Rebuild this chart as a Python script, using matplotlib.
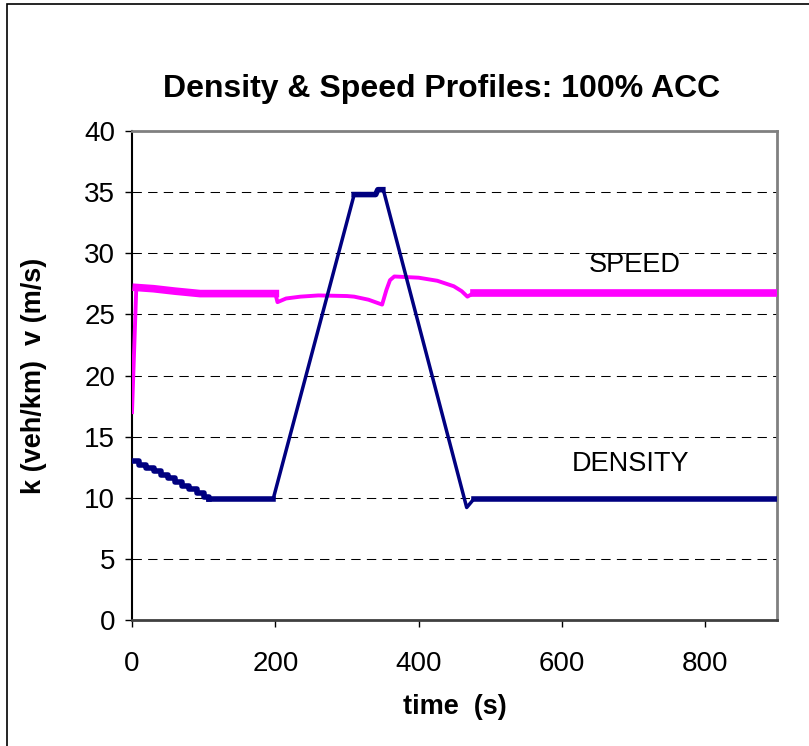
import matplotlib.pyplot as plt
from matplotlib.patches import Rectangle

plt.rcParams['font.family'] = ['Liberation Sans', 'DejaVu Sans']

# density k (veh/km): staircase at the start, then the ramp profile
k_step_t = [0, 10, 20, 30, 40, 50, 60, 70, 80, 90, 100, 108]
k_step = [13.0, 12.7, 12.4, 12.2, 11.9, 11.6, 11.3, 11.0, 10.7, 10.4, 10.1, 9.9]
k_t = [108, 197, 310, 340, 343, 350, 352, 467, 477, 900]
k = [9.9, 9.9, 34.8, 34.8, 35.2, 35.2, 34.9, 9.2, 9.9, 9.9]

# speed v (m/s)
v_t = [0, 6, 30, 60, 95, 200, 203, 215, 235, 260, 300, 310, 330, 349,
       355, 360, 366, 400, 426, 449, 460, 468, 477, 900]
v = [17.0, 27.2, 27.1, 26.9, 26.7, 26.7, 26.0, 26.3, 26.45, 26.55, 26.5,
     26.45, 26.2, 25.8, 27.0, 27.8, 28.1, 28.0, 27.75, 27.3, 26.9, 26.45,
     26.75, 26.75]

navy = '#000080'
magenta = '#ff00ff'

fig = plt.figure(figsize=(8.09, 7.46), dpi=100)
ax = fig.add_axes([132/809, 1 - 620/746, (777 - 132)/809, (620 - 131)/746])

# outer frame like the original chart object
fig.patches.append(Rectangle((7/809, -0.1), 1.1, 1 - 4/746 + 0.1,
                             transform=fig.transFigure, fill=False,
                             edgecolor='black', linewidth=1.2))

for yy in range(5, 40, 5):
    ax.axhline(yy, color='black', linewidth=0.75, linestyle=(0, (9, 6)), zorder=1)

# speed: thin line, oscillating parts drawn thicker
ax.plot(v_t, v, color=magenta, linewidth=2.8, zorder=3)
ax.plot(v_t[1:6], v[1:6], color=magenta, linewidth=5.5, zorder=3)
ax.plot(v_t[22:], v[22:], color=magenta, linewidth=5.5, zorder=3)

# density
ax.plot(k_step_t, k_step, color=navy, linewidth=4, drawstyle='steps-post', zorder=4)
ax.plot(k_t, k, color=navy, linewidth=2.5, zorder=4)
ax.plot(k_t[0:2], k[0:2], color=navy, linewidth=4, zorder=4)
ax.plot(k_t[2:6], k[2:6], color=navy, linewidth=4, zorder=4)
ax.plot(k_t[8:], k[8:], color=navy, linewidth=4, zorder=4)

ax.text(702, 29.0, 'SPEED', fontsize=19.5, ha='center', va='center')
ax.text(696, 12.8, 'DENSITY', fontsize=19.5, ha='center', va='center')

ax.set_xlim(0, 900)
ax.set_ylim(0, 40)
ax.set_xticks([0, 200, 400, 600, 800])
ax.set_yticks(range(0, 41, 5))
ax.tick_params(labelsize=20, direction='out', length=5, width=1)
ax.tick_params(axis='x', pad=17)
ax.tick_params(axis='y', pad=7)

ax.spines['left'].set_color('black')
ax.spines['left'].set_linewidth(1.5)
ax.spines['bottom'].set_color('#404040')
ax.spines['bottom'].set_linewidth(2)
ax.spines['top'].set_color('#808080')
ax.spines['top'].set_linewidth(2)
ax.spines['right'].set_color('#808080')
ax.spines['right'].set_linewidth(2)

ax.set_xlabel('time  (s)', fontsize=19.5, fontweight='bold')
ax.set_ylabel('k (veh/km)  v (m/s)', fontsize=19.5, fontweight='bold')
ax.xaxis.set_label_coords(0.5, (620 - 694)/489)
ax.yaxis.set_label_coords((47 - 132)/645, 0.5)
fig.text(442/809, 1 - 89/746, 'Density & Speed Profiles: 100% ACC',
         fontsize=23, fontweight='bold', ha='center', va='center')

fig.savefig('out.png', dpi=100)
